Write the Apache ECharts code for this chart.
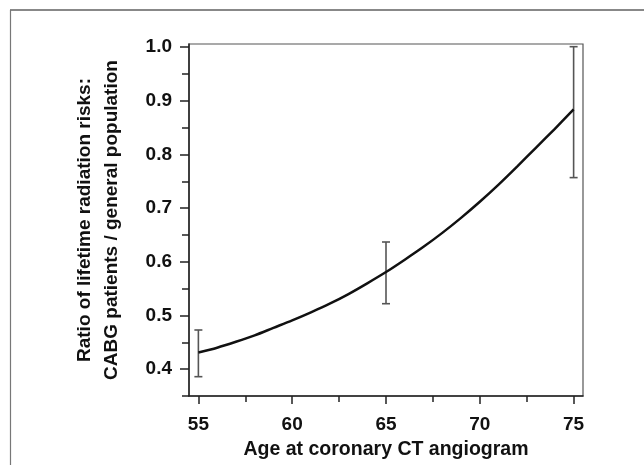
<!DOCTYPE html>
<html>
<head>
<meta charset="utf-8">
<script src="https://cdn.jsdelivr.net/npm/echarts@6/dist/echarts.min.js"></script>
<style>
html,body{margin:0;padding:0;background:#fff;}
#chart{width:644px;height:465px;}
</style>
</head>
<body>
<div id="chart"></div>
<script>
// ---- data ----
const ages = [55,56,57,58,59,60,61,62,63,64,65,66,67,68,69,70,71,72,73,74,75];
const ratio = [0.431,0.440,0.451,0.463,0.477,0.491,0.506,0.522,0.540,0.560,0.581,0.604,0.628,0.654,0.682,0.712,0.744,0.778,0.813,0.848,0.884];
const errAges = [55,65,75];
const errLow = [0.386,0.522,0.757];
const errHigh = [0.473,0.637,1.001];
const xMajorTicks = [55,60,65,70,75];
const xMinorTicks = [57.5,62.5,67.5,72.5];
const yMajorTicks = [0.4,0.5,0.6,0.7,0.8,0.9,1.0];
const yMinorTicks = [0.35,0.45,0.55,0.65,0.75,0.85,0.95];
const xTitle = 'Age at coronary CT angiogram';
const yTitle = 'Ratio of lifetime radiation risks:\nCABG patients / general population';

const FONT = '"Liberation Sans", Arial, sans-serif';
const chart = echarts.init(document.getElementById('chart'), null, {renderer:'canvas'});

const xRange = {min:54.5, max:75.5};
const yRange = {min:0.35, max:1.006};

const option = {
  animation:false,
  backgroundColor:'#ffffff',
  graphic:[
    {type:'line', shape:{x1:10,y1:10,x2:644,y2:10}, style:{stroke:'#888',lineWidth:2}, silent:true},
    {type:'line', shape:{x1:10.5,y1:10,x2:10.5,y2:465}, style:{stroke:'#777',lineWidth:1.2}, silent:true}
  ],
  grid:{left:189, right:61, top:44, bottom:66, show:true, borderColor:'#555', borderWidth:1.2, backgroundColor:'transparent'},
  xAxis:[
    {type:'value', position:'bottom', min:xRange.min, max:xRange.max,
     name:xTitle, nameLocation:'middle', nameGap:44,
     nameTextStyle:{fontFamily:FONT, fontWeight:'bold', fontSize:19.5, color:'#111'},
     axisLine:{show:true, lineStyle:{color:'#222', width:1.5}},
     axisTick:{show:true, customValues:xMajorTicks, length:8, lineStyle:{color:'#222', width:1.5}},
     axisLabel:{show:true, customValues:xMajorTicks, margin:19, fontFamily:FONT, fontWeight:'bold', fontSize:19, color:'#111',
       formatter:function(v){return String(Math.round(v));}},
     splitLine:{show:false}},
    {type:'value', position:'bottom', min:xRange.min, max:xRange.max,
     axisLine:{show:false},
     axisTick:{show:true, customValues:xMinorTicks, length:6, lineStyle:{color:'#222', width:1.5}},
     axisLabel:{show:false}, splitLine:{show:false}}
  ],
  yAxis:[
    {type:'value', position:'left', min:yRange.min, max:yRange.max,
     name:yTitle, nameLocation:'middle', nameGap:64, nameRotate:90,
     nameTextStyle:{fontFamily:FONT, fontWeight:'bold', fontSize:19, color:'#111', lineHeight:27, align:'center'},
     axisLine:{show:true, lineStyle:{color:'#222', width:1.5}},
     axisTick:{show:true, customValues:yMajorTicks, length:9, lineStyle:{color:'#222', width:1.5}},
     axisLabel:{show:true, customValues:yMajorTicks, margin:17, fontFamily:FONT, fontWeight:'bold', fontSize:19, color:'#111',
       formatter:function(v){return v.toFixed(1);}},
     splitLine:{show:false}},
    {type:'value', position:'left', min:yRange.min, max:yRange.max,
     axisLine:{show:false},
     axisTick:{show:true, customValues:yMinorTicks, length:7, lineStyle:{color:'#222', width:1.5}},
     axisLabel:{show:false}, splitLine:{show:false}}
  ],
  series:[
    {type:'line', xAxisIndex:0, yAxisIndex:0, smooth:0.3, symbol:'none',
     data:ages.map(function(a,i){return [a, ratio[i]];}),
     lineStyle:{color:'#111', width:2.5}, z:3},
    {type:'custom', xAxisIndex:0, yAxisIndex:0, z:2,
     data:errAges.map(function(a,i){return [a, errLow[i], errHigh[i]];}),
     renderItem:function(params, api){
       const lo = api.coord([api.value(0), api.value(1)]);
       const hi = api.coord([api.value(0), api.value(2)]);
       const hw = 4;
       const st = {stroke:'#555', lineWidth:1.6, fill:null};
       return {type:'group', children:[
         {type:'line', shape:{x1:lo[0],y1:lo[1],x2:hi[0],y2:hi[1]}, style:st},
         {type:'line', shape:{x1:lo[0]-hw,y1:lo[1],x2:lo[0]+hw,y2:lo[1]}, style:st},
         {type:'line', shape:{x1:hi[0]-hw,y1:hi[1],x2:hi[0]+hw,y2:hi[1]}, style:st}
       ]};
     }}
  ]
};
chart.setOption(option);
</script>
</body>
</html>
